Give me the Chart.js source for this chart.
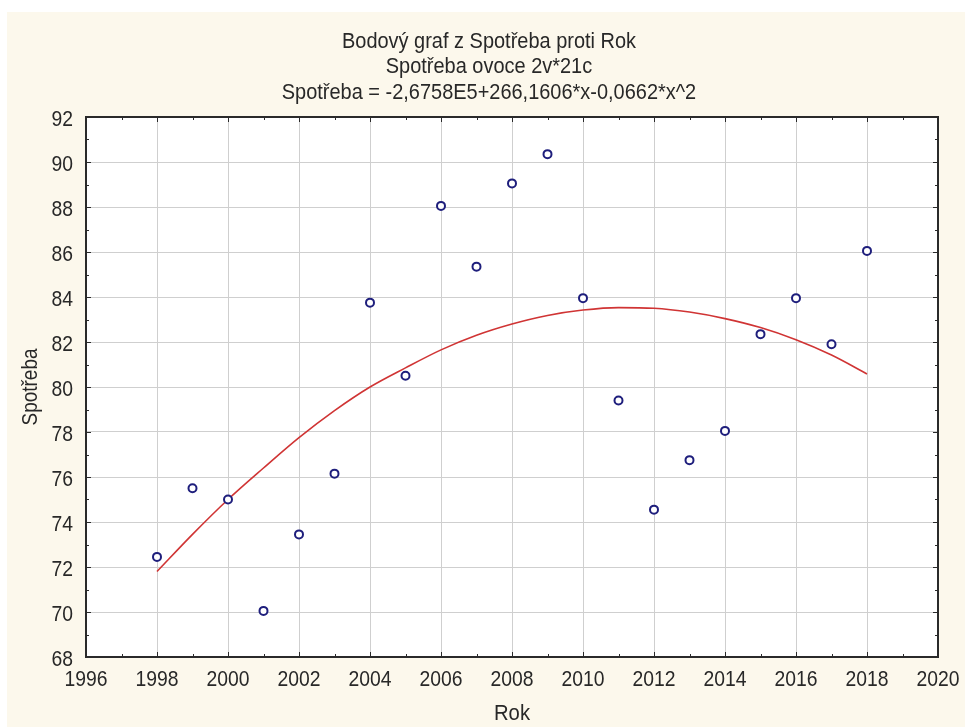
<!DOCTYPE html>
<html><head><meta charset="utf-8">
<script src="https://cdn.jsdelivr.net/npm/chart.js@4.4.1/dist/chart.umd.min.js"></script>
<style>html,body{margin:0;padding:0;background:#fff}#wrap{width:965px;height:727px}</style>
</head><body><div id="wrap"><canvas id="c" width="965" height="727"></canvas></div>
<script>
// ---- data ----
const years = [1998,1999,2000,2001,2002,2003,2004,2005,2006,2007,2008,2009,2010,2011,2012,2013,2014,2015,2016,2017,2018];
const consumption = [72.45,75.5,75.0,70.05,73.45,76.15,83.75,80.5,88.05,85.35,89.05,90.35,83.95,79.4,74.55,76.75,78.05,82.35,83.95,81.9,86.05];
const fitValues = [71.8,73.45,75.0,76.4,77.75,78.95,80.0,80.85,81.65,82.3,82.8,83.18,83.42,83.53,83.5,83.33,83.04,82.64,82.1,81.42,80.58];
const titleLines = ['Bodový graf z Spotřeba proti Rok','Spotřeba ovoce 2v*21c','Spotřeba = -2,6758E5+266,1606*x-0,0662*x^2'];
const xAxisTitle = 'Rok';
const yAxisTitle = 'Spotřeba';
const xRange = [1996, 2020];
const yRange = [68, 92];
const tickStep = 2;

const FAM = '"Liberation Sans", Arial, sans-serif';
const FS = 22;
const FONT = FS + 'px ' + FAM;
const TXT = '#282828';

const scatterPts = years.map((y,i)=>({x:y, y:consumption[i]}));
const fitPts = years.map((y,i)=>({x:y, y:fitValues[i]}));

function squeeze(ctx, sample, target){
  ctx.save(); ctx.font = FONT; const w = ctx.measureText(sample).width; ctx.restore();
  return target / w;
}
function txt(ctx, s, x, y, align, sx, rot){
  ctx.save();
  ctx.translate(x, y);
  if (rot) ctx.rotate(rot);
  ctx.scale(sx, 1);
  ctx.font = FONT; ctx.fillStyle = TXT;
  ctx.textAlign = align; ctx.textBaseline = 'alphabetic';
  ctx.fillText(s, 0, 0);
  ctx.restore();
}

const bgPlugin = {
  id:'bg',
  beforeDraw(chart){
    const ctx = chart.ctx, a = chart.chartArea;
    ctx.save();
    ctx.fillStyle = '#ffffff'; ctx.fillRect(0,0,chart.width,chart.height);
    ctx.fillStyle = '#fcf8ec'; ctx.fillRect(7,12,chart.width-7,chart.height-12);
    ctx.fillStyle = '#ffffff'; ctx.fillRect(a.left,a.top,a.right-a.left,a.bottom-a.top);
    ctx.restore();
  }
};
const textPlugin = {
  id:'texts',
  afterDraw(chart){
    const ctx = chart.ctx, a = chart.chartArea, xs = chart.scales.x, ys = chart.scales.y;
    // titles
    const sT = squeeze(ctx, titleLines[0], 294);
    const tY = [48, 73, 98.5];
    titleLines.forEach((t,i)=>txt(ctx, t, 489, tY[i], 'center', sT));
    // tick labels
    const sD = squeeze(ctx, '1996', 43);
    xs.ticks.forEach(t=>txt(ctx, String(t.value), xs.getPixelForValue(t.value), 686, 'center', sD));
    ys.ticks.forEach(t=>txt(ctx, String(t.value), 73, ys.getPixelForValue(t.value) + 8.5, 'right', sD));
    // axis titles
    txt(ctx, xAxisTitle, (a.left + a.right) / 2, 720, 'center', squeeze(ctx, xAxisTitle, 36));
    txt(ctx, yAxisTitle, 37, (a.top + a.bottom) / 2, 'center', squeeze(ctx, yAxisTitle, 77), -Math.PI/2);
  }
};
const framePlugin = {
  id:'frame',
  afterDraw(chart){
    const ctx = chart.ctx, a = chart.chartArea, xs = chart.scales.x, ys = chart.scales.y;
    ctx.save();
    ctx.strokeStyle = '#2a2a2a'; ctx.lineWidth = 1;
    ctx.beginPath();
    for (let v = xRange[0]; v <= xRange[1]; v++) {
      const px = Math.round(xs.getPixelForValue(v)) + 0.5;
      const L = (v % 2 === 0) ? 5 : 3;
      ctx.moveTo(px, a.bottom); ctx.lineTo(px, a.bottom - L);
      ctx.moveTo(px, a.top); ctx.lineTo(px, a.top + L);
    }
    for (let v = yRange[0]; v <= yRange[1]; v++) {
      const py = Math.round(ys.getPixelForValue(v)) + 0.5;
      const L = (v % 2 === 0) ? 5 : 3;
      ctx.moveTo(a.left, py); ctx.lineTo(a.left + L, py);
      ctx.moveTo(a.right, py); ctx.lineTo(a.right - L, py);
    }
    ctx.stroke();
    ctx.lineWidth = 2; ctx.strokeStyle = '#2a2a2a';
    ctx.strokeRect(a.left, a.top, a.right-a.left, a.bottom-a.top);
    ctx.restore();
  }
};

new Chart(document.getElementById('c'), {
  type:'scatter',
  data:{ datasets:[
    { label:'Spotřeba', data:scatterPts, showLine:false,
      pointRadius:4, pointBorderWidth:2, pointBorderColor:'#1e1e7c', pointBackgroundColor:'#ffffff' },
    { label:'fit', data:fitPts, showLine:true, pointRadius:0, borderColor:'#d03434', borderWidth:1.6,
      cubicInterpolationMode:'monotone', fill:false }
  ]},
  options:{
    responsive:false, animation:false, devicePixelRatio:1,
    layout:{ padding:{ top:117, right:27, bottom:0, left:0 } },
    plugins:{ legend:{display:false}, tooltip:{enabled:false}, title:{display:false} },
    scales:{
      x:{ type:'linear', min:xRange[0], max:xRange[1],
        afterFit(s){ s.height = 70; },
        border:{display:false},
        grid:{ color:'#cfcfcf', lineWidth:1, drawTicks:false },
        ticks:{ stepSize:tickStep, display:false },
        title:{ display:false } },
      y:{ type:'linear', min:yRange[0], max:yRange[1],
        afterFit(s){ s.width = 86; },
        border:{display:false},
        grid:{ color:'#cfcfcf', lineWidth:1, drawTicks:false },
        ticks:{ stepSize:tickStep, display:false },
        title:{ display:false } }
    }
  },
  plugins:[bgPlugin, textPlugin, framePlugin]
});
</script></body></html>
